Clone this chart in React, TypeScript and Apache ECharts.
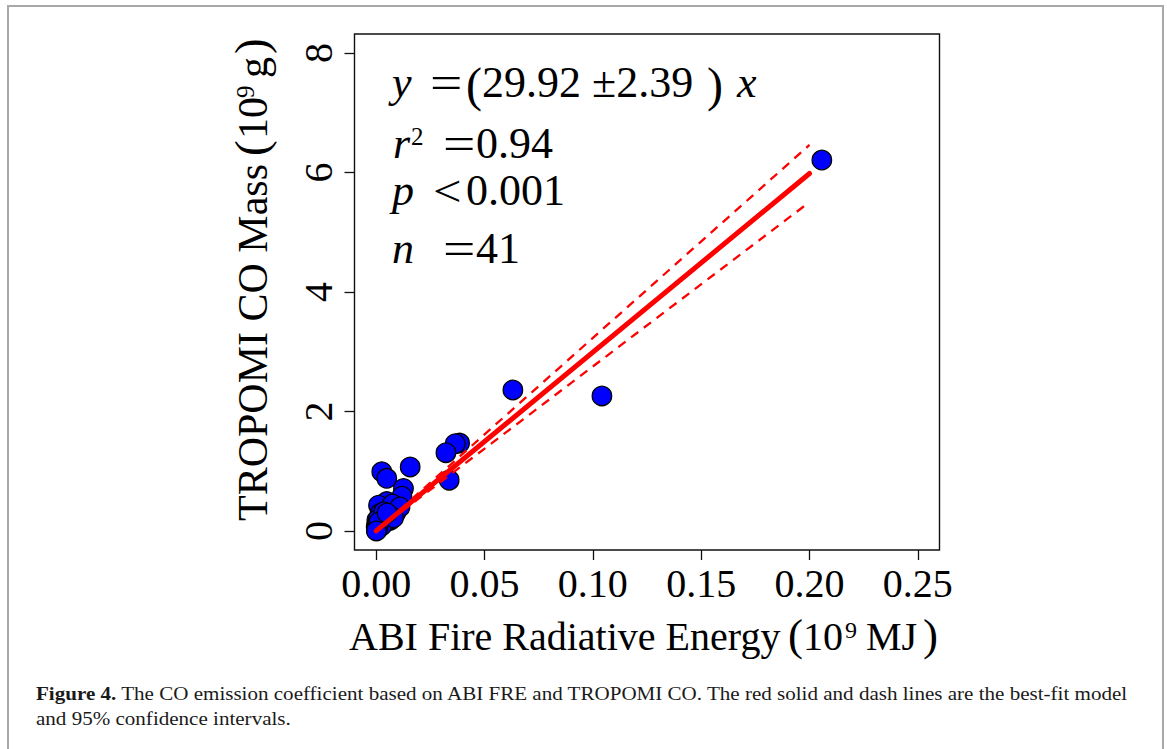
import React, { useEffect, useRef } from "react";
import * as echarts from "echarts";

// ---- data ----
const xTicks = [0, 0.05, 0.1, 0.15, 0.2, 0.25];
const yTicks = [0, 2, 4, 6, 8];

// ABI FRE (10^9 MJ) and TROPOMI CO mass (10^9 g), 41 fires
const fireEnergy = [
  0.2057, 0.1042, 0.0631, 0.0385, 0.0365, 0.0322, 0.0337, 0.0157, 0.0026, 0.0049,
  0.0126, 0.0119, 0.0049, 0.0011, 0.0096, 0.0018, 0.0065, 0.0003, 0.0, 0.0003,
  0.0075, 0.009, 0.006, 0.003, 0.0012, 0.0008, 0.0005, 0.002, 0.004, 0.001,
  0.0002, 0.0015, 0.0025, 0.0035, 0.011, 0.008, 0.0004, 0.0006, 0.0013, 0.005,
  0.0001,
];
const coMass = [
  6.21, 2.26, 2.36, 1.47, 1.46, 1.31, 0.85, 1.07, 0.99, 0.88,
  0.71, 0.58, 0.49, 0.43, 0.35, 0.29, 0.18, 0.18, 0.07, 0.01,
  0.45, 0.3, 0.26, 0.22, 0.12, 0.05, 0.03, 0.1, 0.14, 0.2,
  0.02, 0.06, 0.08, 0.32, 0.4, 0.22, 0.09, 0.04, 0.15, 0.3,
  0.0,
];

// best fit (slope 29.92) and 95% CI (29.92 +/- 2.39), drawn over 0..0.2
const fitX = [0, 0.2];
const fitY = [0, 5.984];
const upperY = [0, 6.462];
const lowerY = [0, 5.506];

const FONT = "Liberation Serif";

function txt(text: string, x: number, y: number, size: number, extra: any = {}) {
  return {
    type: "text",
    x,
    y,
    rotation: extra.rotation || 0,
    scaleX: extra.scaleX || 1,
    silent: true,
    z: 100,
    style: {
      text,
      x: 0,
      y: 0,
      fontSize: size,
      fontFamily: FONT,
      fontStyle: extra.italic ? "italic" : "normal",
      fontWeight: extra.bold ? "bold" : "normal",
      fill: extra.fill || "#000",
      align: "left",
      verticalAlign: "middle",
      textAlign: "left",
      textVerticalAlign: "middle",
      rich: extra.rich,
    },
  };
}

export default function App() {
  const ref = useRef<HTMLDivElement>(null);
  useEffect(() => {
    const chart = echarts.init(ref.current!, null, { renderer: "svg", width: 1167, height: 749 });
    const points = fireEnergy.map((x, i) => [x, coMass[i]]);
    const fit = fitX.map((x, i) => [x, fitY[i]]);
    const upper = fitX.map((x, i) => [x, upperY[i]]);
    const lower = fitX.map((x, i) => [x, lowerY[i]]);
    const R90 = Math.PI / 2;

    const option: any = {
      animation: false,
      backgroundColor: "#fff",
      grid: {
        left: 354.5,
        right: 227.5,
        top: 34,
        bottom: 199,
        show: true,
        borderColor: "#111",
        borderWidth: 1.4,
        backgroundColor: "transparent",
        containLabel: false,
        outerBoundsMode: "none",
      },
      xAxis: {
        type: "value",
        min: -0.01,
        max: 0.26,
        axisLine: { show: false, onZero: false },
        splitLine: { show: false },
        axisTick: {
          show: true,
          inside: false,
          length: 10,
          lineStyle: { color: "#111", width: 1.3 },
          customValues: xTicks,
        },
        axisLabel: {
          customValues: xTicks,
          formatter: (v: number) => v.toFixed(2),
          fontSize: 40,
          fontFamily: FONT,
          color: "#000",
          margin: 13,
          showMinLabel: true,
          showMaxLabel: true,
        },
      },
      yAxis: {
        type: "value",
        min: -0.32,
        max: 8.32,
        axisLine: { show: false, onZero: false },
        splitLine: { show: false },
        axisTick: {
          show: true,
          inside: false,
          length: 10,
          lineStyle: { color: "#111", width: 1.3 },
          customValues: yTicks,
        },
        axisLabel: {
          customValues: yTicks,
          formatter: (v: number) => String(v),
          fontSize: 40,
          fontFamily: FONT,
          color: "#000",
          margin: 16,
          rotate: 90,
          showMinLabel: true,
          showMaxLabel: true,
        },
      },
      series: [
        {
          type: "scatter",
          data: points,
          symbol: "circle",
          symbolSize: 19.5,
          z: 2,
          itemStyle: { color: "#0000FF", borderColor: "#000", borderWidth: 1.3, opacity: 1 },
        },
        {
          type: "line",
          data: fit,
          showSymbol: false,
          symbol: "none",
          z: 4,
          lineStyle: { color: "#FF0000", width: 5, cap: "round" },
        },
        {
          type: "line",
          data: upper,
          showSymbol: false,
          symbol: "none",
          z: 3,
          lineStyle: { color: "#FF0000", width: 2.3, type: [9, 7] },
        },
        {
          type: "line",
          data: lower,
          showSymbol: false,
          symbol: "none",
          z: 3,
          lineStyle: { color: "#FF0000", width: 2.3, type: [9, 7] },
        },
      ],
      graphic: [
        {
          type: "rect",
          silent: true,
          shape: { x: 8, y: 6, width: 1155, height: 780 },
          style: { fill: "none", stroke: "#a8a8a8", lineWidth: 2 },
        },
        // annotation
        txt("y", 392, 82, 44, { italic: true }),
        txt("=", 430, 83, 46, { scaleX: 1.25 }),
        txt("(", 466, 84, 48),
        txt("29.92 \u00b12.39", 482, 82, 44),
        txt(")", 707, 84, 48),
        txt("x", 737, 82, 44, { italic: true }),
        txt("r", 393, 143, 44, { italic: true }),
        txt("2", 411, 136, 25),
        txt("=", 443, 144, 46, { scaleX: 1.25 }),
        txt("0.94", 476, 143, 44),
        txt("p", 392, 190, 44, { italic: true }),
        txt("<", 433, 191, 44, { scaleX: 1.15 }),
        txt("0.001", 466, 190, 44),
        txt("n", 392, 248, 44, { italic: true }),
        txt("=", 443, 249, 46, { scaleX: 1.25 }),
        txt("41", 476, 248, 44),
        // x axis title
        txt("ABI Fire Radiative Energy", 349, 636.5, 40),
        txt("(", 788, 635, 45),
        txt("10", 803, 636.5, 40),
        txt("9", 845, 630, 24),
        txt("MJ", 866, 636.5, 40),
        txt(")", 923, 635, 45),
        // y axis title (rotated)
        txt("TROPOMI CO Mass", 252.5, 521, 42, { rotation: R90 }),
        txt("(", 251, 156, 47, { rotation: R90 }),
        txt("10", 252.5, 139, 42, { rotation: R90 }),
        txt("9", 245.5, 98, 25, { rotation: R90 }),
        txt("g", 252.5, 78, 42, { rotation: R90 }),
        txt(")", 251, 54, 47, { rotation: R90 }),
        // caption
        txt(
          "{b|Figure 4.} The CO emission coefficient based on ABI FRE and TROPOMI CO. The red solid and dash lines are the best-fit model",
          36,
          693.4,
          19.5,
          { fill: "#1a1a1a", scaleX: 1.08, rich: { b: { fontWeight: "bold", fontSize: 19.5, fontFamily: FONT, fill: "#1a1a1a" } } }
        ),
        txt("and 95% confidence intervals.", 36, 718.4, 19.5, { fill: "#1a1a1a", scaleX: 1.08 }),
      ],
    };
    chart.setOption(option);
    return () => chart.dispose();
  }, []);
  return (
    <div
      ref={ref}
      style={{ position: "fixed", left: 0, top: 0, width: 1167, height: 749, background: "#fff" }}
    />
  );
}
